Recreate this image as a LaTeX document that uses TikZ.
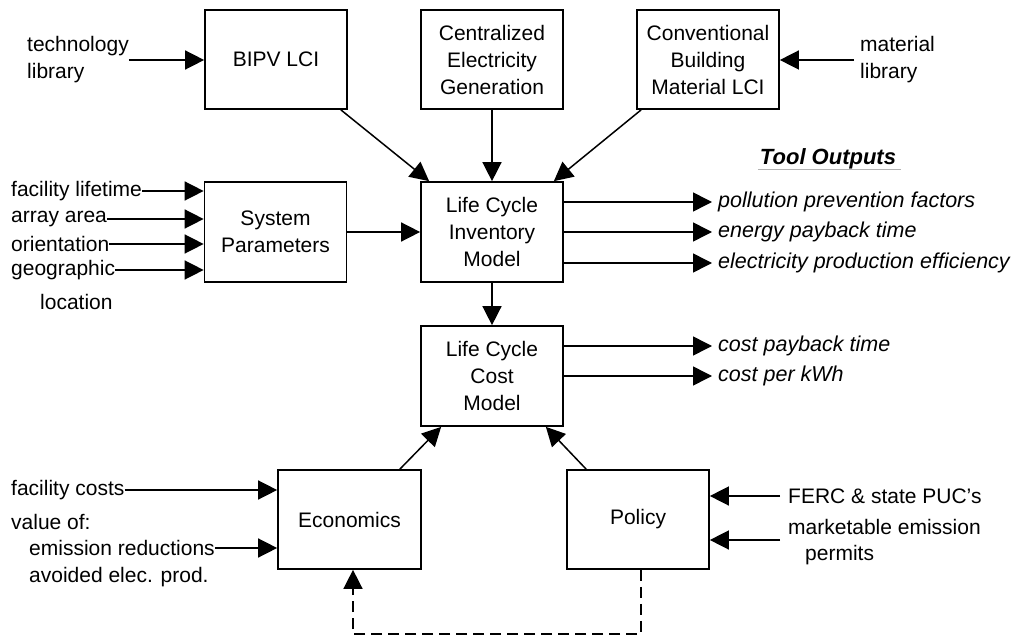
\documentclass[tikz,border=0pt]{standalone}
\usepackage{fontspec}
\setmainfont{Liberation Sans}
\usetikzlibrary{arrows.meta}
\newcommand\fsz{\fontsize{21}{27}\selectfont}
\newcommand\fsi{\fontsize{21.5}{27}\selectfont\itshape}
\begin{document}
\begin{tikzpicture}[x=1pt,y=-1pt,
  box/.style={draw,line width=1.7pt,minimum width=142pt,minimum height=99pt,align=center,inner sep=0pt,font=\fsz},
  lbl/.style={anchor=west,inner sep=0pt,font=\fsz,align=left},
  outl/.style={anchor=west,inner xsep=6pt,inner ysep=0pt,font=\fsi},
  arr/.style={line width=1.5pt,-{Triangle[length=19pt,width=19pt]}},
  dashline/.style={dash pattern=on 11pt off 6pt}]
\useasboundingbox (0,0) rectangle (1027,636);
% boxes
\node[box] (bipv) at (276,59.5) {BIPV LCI};
\node[box] (ceg) at (492,59.5) {Centralized\\Electricity\\Generation};
\node[box] (cbm) at (708,59.5) {Conventional\\Building\\Material LCI};
\node[box,minimum height=100pt] (sys) at (275.5,232) {System\\Parameters};
\node[box,minimum height=100pt] (lci) at (492,232) {Life Cycle\\Inventory\\Model};
\node[box,minimum height=100pt] (lcc) at (492,376) {Life Cycle\\Cost\\Model};
\node[box,minimum width=143pt] (econ) at (349.5,519.5) {Economics};
\node[box] (pol) at (638,519.5) {Policy\strut};
% top inputs
\node[lbl] (tech) at (27,60) {technology\\library};
\draw[arr] (tech.east) -- (tech.east -| bipv.west);
\node[lbl,inner xsep=6pt] (mat) at (854,60) {material\\library};
\draw[arr] (mat.west) -- (mat.west -| cbm.east);
% system parameter inputs
\node[lbl] (fl) at (11,191) {facility lifetime};
\node[lbl] (aa) at (11,219) {array area};
\node[lbl] (ori) at (11,244) {orientation};
\node[lbl] (geo) at (11,270) {geographic};
\node[lbl] (loc) at (40,302) {location};
\draw[arr] (fl.east) -- (fl.east -| sys.west);
\draw[arr] (aa.east) -- (aa.east -| sys.west);
\draw[arr] (ori.east) -- (ori.east -| sys.west);
\draw[arr] (geo.east) -- (geo.east -| sys.west);
% flows into LCI
\draw[arr] (sys.east) -- (sys.east -| lci.west);
\draw[arr] ([xshift=-7pt]bipv.south east) -- ([xshift=9pt]lci.north west);
\draw[arr] (ceg.south) -- (lci.north);
\draw[arr] ([xshift=5pt]cbm.south west) -- ([xshift=-10pt]lci.north east);
\draw[arr] (lci.south) -- (lcc.north);
% tool outputs
\node[inner sep=0pt,font=\fontsize{22}{27}\selectfont\bfseries\itshape] (tools) at (828,159) {Tool Outputs};
\draw[gray!60,line width=0.8pt] ([xshift=-2pt,yshift=-5pt]tools.base west) -- ([xshift=5pt,yshift=-5pt]tools.base east);
\node[outl] (o1) at (712,202) {pollution prevention factors};
\node[outl] (o2) at (712,232) {energy payback time};
\node[outl] (o3) at (712,263) {electricity production efficiency};
\node[outl] (o4) at (712,346) {cost payback time};
\node[outl] (o5) at (712,376) {cost per kWh};
\draw[arr] (o1.west -| lci.east) -- (o1.west);
\draw[arr] (o2.west -| lci.east) -- (o2.west);
\draw[arr] (o3.west -| lci.east) -- (o3.west);
\draw[arr] (o4.west -| lcc.east) -- (o4.west);
\draw[arr] (o5.west -| lcc.east) -- (o5.west);
% economics inputs
\node[lbl] (fc) at (11,490) {facility costs};
\node[lbl] (vo) at (11,522) {value of:};
\node[lbl] (er) at (29,548) {emission reductions};
\node[lbl] (ae) at (29,577) {avoided elec. prod.};
\draw[arr] (fc.east) -- (fc.east -| econ.west);
\draw[arr] (er.east) -- (er.east -| econ.west);
% policy inputs
\node[lbl,inner xsep=8pt] (ferc) at (780,496) {FERC \& state PUC's};
\node[lbl] (mkt) at (788,527) {marketable emission};
\node[lbl] (perm) at (805,555) {permits};
\coordinate (mktin) at (780,540);
\draw[arr] (ferc.west) -- (ferc.west -| pol.east);
\draw[arr] (mktin) -- (mktin -| pol.east);
% into LCC
\draw[arr] ([xshift=-22pt]econ.north east) -- ([xshift=21pt]lcc.south west);
\draw[arr] ([xshift=20pt]pol.north west) -- ([xshift=-18pt]lcc.south east);
% dashed feedback
\coordinate (dashbot) at (353,634);
\draw[arr,dashline] ([xshift=3pt]pol.south) |- (dashbot) -- (dashbot |- econ.south);
\end{tikzpicture}
\end{document}
